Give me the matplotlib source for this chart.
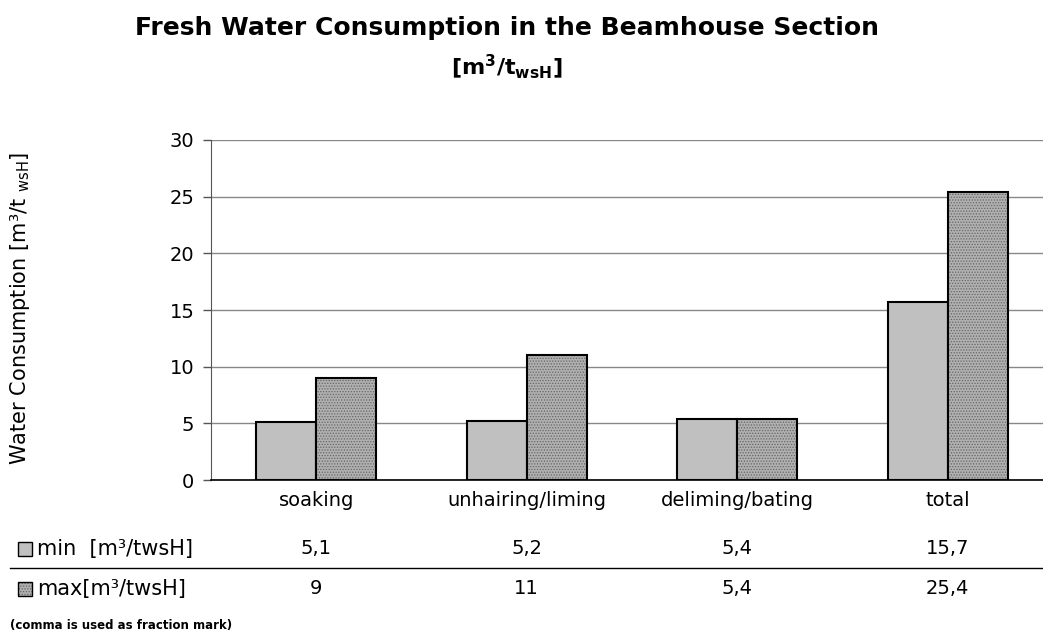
import matplotlib
matplotlib.use("Agg")
import matplotlib.pyplot as plt
from matplotlib.patches import Rectangle
from matplotlib.transforms import blended_transform_factory

# data
categories = ['soaking', 'unhairing/liming', 'deliming/bating', 'total']
min_values = [5.1, 5.2, 5.4, 15.7]
max_values = [9, 11, 5.4, 25.4]
min_labels = ['5,1', '5,2', '5,4', '15,7']
max_labels = ['9', '11', '5,4', '25,4']
y_ticks = [0, 5, 10, 15, 20, 25, 30]

plt.rcParams['font.family'] = ['DejaVu Sans']
plt.rcParams['mathtext.fontset'] = 'dejavusans'
plt.rcParams['hatch.linewidth'] = 0.6

min_color = '#c0c0c0'
max_color = '#b0b0b0'
hatch_color = '#666666'
fs = 14

fig = plt.figure(figsize=(10.43, 6.37), dpi=100)
ax = fig.add_axes([211 / 1043, 157 / 637, 842 / 1043, 340 / 637])

x = list(range(len(categories)))
w = 0.285
x_min = [i - w / 2 for i in x]
x_max = [i + w / 2 for i in x]

ax.bar(x_min, min_values, width=w, color=min_color, edgecolor='black',
       linewidth=1.5, zorder=3)
# hatched fill first, then black outline on top
ax.bar(x_max, max_values, width=w, color=max_color, edgecolor=hatch_color,
       hatch='......', linewidth=0, zorder=3)
ax.bar(x_max, max_values, width=w, fill=False, edgecolor='black',
       linewidth=1.5, zorder=4)

ax.set_xlim(-0.5, 3.5)
ax.set_ylim(0, 30)
ax.set_yticks(y_ticks)
ax.yaxis.grid(True, color='#888888', linewidth=1)
ax.set_axisbelow(True)
ax.tick_params(axis='y', direction='out', length=6, width=1, color='#555555',
               labelsize=fs, pad=6)
ax.set_xticks(x)
ax.set_xticklabels(categories)
ax.tick_params(axis='x', length=0, labelsize=fs, pad=8)

for side in ['top', 'right']:
    ax.spines[side].set_visible(False)
ax.spines['left'].set_color('#555555')
ax.spines['bottom'].set_color('black')
ax.spines['bottom'].set_linewidth(1.2)

fig.text(0.486, 1 - 28 / 637, 'Fresh Water Consumption in the Beamhouse Section',
         ha='center', va='center', fontsize=18, fontweight='bold')
fig.text(0.486, 1 - 67 / 637, r'$\mathbf{[m^3/t_{wsH}]}$',
         ha='center', va='center', fontsize=16)

fig.text(20 / 1043, 1 - 308 / 637,
         r'Water Consumption [m³/t $_{\mathregular{wsH}}$]',
         rotation=90, ha='center', va='center', fontsize=15)

# data table under the chart
trans = blended_transform_factory(ax.transData, fig.transFigure)
row1_y = 1 - 549 / 637
row2_y = 1 - 589 / 637
for i, lab in enumerate(min_labels):
    fig.text(i, row1_y, lab, transform=trans, ha='center', va='center',
             fontsize=fs)
for i, lab in enumerate(max_labels):
    fig.text(i, row2_y, lab, transform=trans, ha='center', va='center',
             fontsize=fs)

sq_w, sq_h = 14 / 1043, 14 / 637
fig.patches.append(Rectangle((18 / 1043, row1_y - sq_h / 2), sq_w, sq_h,
                             facecolor=min_color, edgecolor='black',
                             linewidth=1, transform=fig.transFigure))
fig.patches.append(Rectangle((18 / 1043, row2_y - sq_h / 2), sq_w, sq_h,
                             facecolor=max_color, edgecolor=hatch_color,
                             hatch='......', linewidth=0,
                             transform=fig.transFigure))
fig.patches.append(Rectangle((18 / 1043, row2_y - sq_h / 2), sq_w, sq_h,
                             fill=False, edgecolor='black', linewidth=1,
                             transform=fig.transFigure))
fig.text(37 / 1043, row1_y, 'min  [m³/twsH]', ha='left', va='center',
         fontsize=15)
fig.text(37 / 1043, row2_y, 'max[m³/twsH]', ha='left', va='center',
         fontsize=15)
fig.add_artist(plt.Line2D([10 / 1043, 1], [1 - 568 / 637] * 2, color='black',
                          linewidth=1, transform=fig.transFigure))

fig.text(10 / 1043, 1 - 626 / 637, '(comma is used as fraction mark)',
         ha='left', va='center', fontsize=8.5, fontweight='bold')

fig.savefig('out.png', dpi=100)
